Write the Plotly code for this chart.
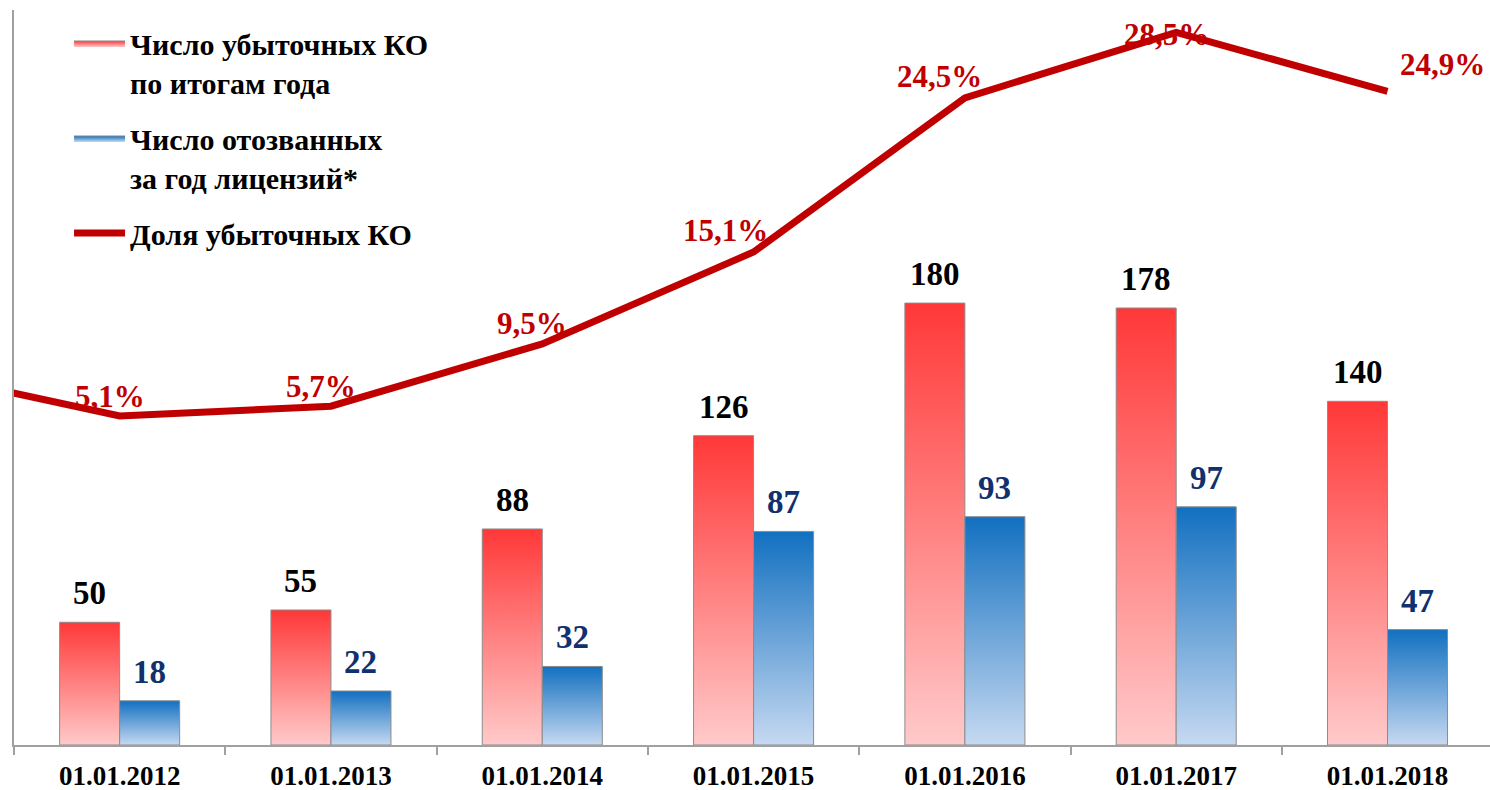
import plotly.graph_objects as go

# ---- data ----
dates = ["01.01.2012", "01.01.2013", "01.01.2014", "01.01.2015",
         "01.01.2016", "01.01.2017", "01.01.2018"]
loss_making = [50, 55, 88, 126, 180, 178, 140]
revoked = [18, 22, 32, 87, 93, 97, 47]
loss_share = [5.1, 5.7, 9.5, 15.1, 24.5, 28.5, 24.9]
loss_share_prev = 7.9  # 01.01.2011, only partly visible at the left edge
share_labels = ["5,1%", "5,7%", "9,5%", "15,1%", "24,5%", "28,5%", "24,9%"]

name_red = "Число убыточных КО<br>по итогам года"
name_blue = "Число отозванных<br>за год лицензий*"
name_line = "Доля убыточных КО"

# ---- styles ----
FONT = "Liberation Serif"
RED_SCALE = [[0, "#FFCACA"], [1, "#FF3838"]]
BLUE_SCALE = [[0, "#C6D9F1"], [1, "#1270C0"]]
LINE_COLOR = "#C00000"
NAVY = "#10306E"
BAR_W = 0.284
share_offsets = [(-10, 20), (-10, 20), (-10, 20), (-28, 22), (-25, 21), (-10, -2), (55, 27)]

fig = go.Figure()

for i, v in enumerate(loss_making):
    fig.add_trace(go.Scatter(
        x=[i - BAR_W, i - BAR_W, i, i, i - BAR_W], y=[0, v, v, 0, 0],
        mode="lines", fill="toself",
        fillgradient=dict(type="vertical", colorscale=RED_SCALE),
        line=dict(color="#8C8C8C", width=1),
        name=name_red, legendgroup="red", showlegend=(i == 0),
        hoverinfo="skip"))

for i, v in enumerate(revoked):
    fig.add_trace(go.Scatter(
        x=[i, i, i + BAR_W, i + BAR_W, i], y=[0, v, v, 0, 0],
        mode="lines", fill="toself",
        fillgradient=dict(type="vertical", colorscale=BLUE_SCALE),
        line=dict(color="#8C8C8C", width=1),
        name=name_blue, legendgroup="blue", showlegend=(i == 0),
        hoverinfo="skip"))

fig.add_trace(go.Scatter(
    x=[-1] + list(range(len(dates))), y=[loss_share_prev] + loss_share,
    mode="lines", line=dict(color=LINE_COLOR, width=7),
    name=name_line, legendgroup="line", yaxis="y2", cliponaxis=True))

annotations = []
for i, v in enumerate(loss_making):
    annotations.append(dict(x=i - BAR_W / 2, y=v, xref="x", yref="y", text=str(v),
                            showarrow=False, yshift=29,
                            font=dict(family=FONT, size=33, color="black", weight="bold")))
for i, v in enumerate(revoked):
    annotations.append(dict(x=i + BAR_W / 2, y=v, xref="x", yref="y", text=str(v),
                            showarrow=False, yshift=29,
                            font=dict(family=FONT, size=33, color=NAVY, weight="bold")))
for i, (v, t) in enumerate(zip(loss_share, share_labels)):
    dx, dy = share_offsets[i]
    annotations.append(dict(x=i, y=v, xref="x", yref="y2", text=t,
                            showarrow=False, xshift=dx, yshift=dy,
                            font=dict(family=FONT, size=31, color=LINE_COLOR, weight="bold")))

fig.update_layout(
    width=1490, height=790,
    margin=dict(l=14, r=0, t=10, b=45, autoexpand=False),
    paper_bgcolor="white", plot_bgcolor="white",
    font=dict(family=FONT, color="black"),
    showlegend=True,
    legend=dict(x=0.0373, y=0.9905, xanchor="left", yanchor="top",
                bgcolor="rgba(0,0,0,0)", valign="top", tracegroupgap=14,
                font=dict(family=FONT, size=30, color="black", weight="bold"),
                itemwidth=51),
    annotations=annotations,
    xaxis=dict(range=[-0.5, 6.485], tickmode="array", automargin=False,
               tickvals=list(range(len(dates))), ticktext=dates,
               ticks="", showline=True, linecolor="#A0A0A0", linewidth=1.5,
               showgrid=False, zeroline=False, ticklabelstandoff=6,
               tickfont=dict(family=FONT, size=27, color="black", weight="bold"),
               minor=dict(tickmode="array",
                          tickvals=[k - 0.5 for k in range(len(dates) + 1)],
                          ticks="outside", ticklen=8, tickcolor="#A0A0A0",
                          tickwidth=1.5, showgrid=False)),
    yaxis=dict(range=[0, 299.4], showline=True, linecolor="#A0A0A0", linewidth=1.5,
               automargin=False,
               showticklabels=False, ticks="", showgrid=False, zeroline=False),
    yaxis2=dict(range=[-14.96, 29.86], overlaying="y", visible=False,
                automargin=False, showgrid=False, zeroline=False),
)

fig.write_html("out.html",
               config={"displayModeBar": False},
               post_script="document.body.style.margin='0';document.body.style.overflow='hidden';")
